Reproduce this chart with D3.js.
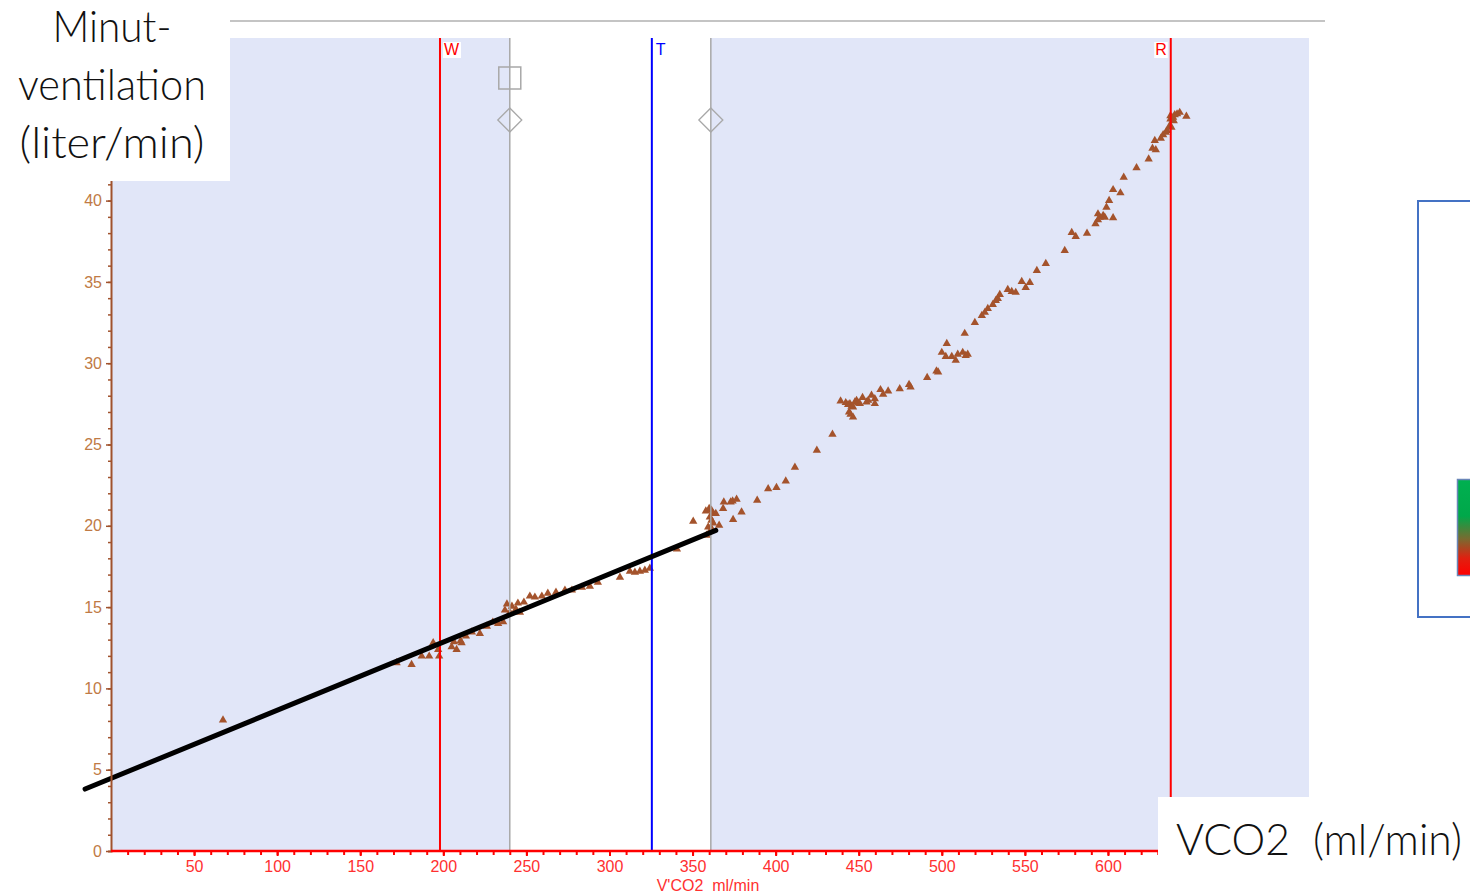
<!DOCTYPE html>
<html><head><meta charset="utf-8">
<script src="https://cdn.jsdelivr.net/npm/d3@7"></script>
<style>
html,body{margin:0;padding:0;background:#fff;}
svg{display:block;}
</style></head>
<body>
<svg id="chart" width="1470" height="895"></svg>
<script>
// ---- Data (V'CO2 ml/min, VE liter/min) ----
const vco2 = [67.4,171.9,180.9,187.0,191.5,193.9,197.5,196.9,205.0,208.0,206.4,210.4,211.0,213.6,217.2,222.0,226.2,229.8,233.0,236.0,
237.1,238.3,240.1,241.3,243.7,244.9,246.1,248.5,252.1,255.1,259.3,262.9,267.8,273.2,277.4,283.4,288.2,293.0,306.3,312.3,
315.3,318.3,321.3,324.3,340.6,350.4,358.0,360.0,361.4,362.4,364.0,360.4,361.4,362.4,359.4,361.4,358.4,366.0,368.4,368.8,
372.9,374.1,376.5,374.4,379.5,388.9,395.5,400.5,406.1,411.6,424.8,434.2,439.1,442.2,443.6,444.7,445.7,446.6,447.7,448.7,
449.6,450.7,444.2,445.1,446.6,452.3,454.7,455.7,457.7,459.7,459.7,463.1,464.7,467.7,474.7,480.3,481.2,491.2,496.8,497.8,
500.0,503.0,502.4,506.0,508.4,509.6,512.6,514.4,515.6,513.8,519.9,524.1,525.9,527.7,530.7,532.5,533.7,534.9,539.7,542.1,
544.5,548.1,550.5,553.0,557.2,562.6,574.0,578.2,580.6,587.4,592.5,594.0,595.1,597.1,598.1,594.0,603.1,599.1,600.7,603.1,
607.5,609.5,617.2,624.5,626.8,628.8,628.2,631.8,633.2,634.8,635.6,637.2,638.2,637.6,639.2,640.2,641.6,643.2,647.2,637.6,639.6];
const ve = [8.05,11.57,11.47,11.98,11.98,12.80,11.98,12.39,12.55,12.39,12.86,12.92,12.80,13.21,13.46,13.37,13.82,14.07,13.99,14.09,
14.81,15.18,14.68,15.05,14.87,15.24,14.68,15.30,15.67,15.61,15.67,15.85,15.91,16.04,16.04,16.22,16.28,16.53,16.83,17.20,
17.14,17.20,17.26,17.39,18.56,20.28,20.91,21.06,20.95,20.75,20.75,20.54,20.34,20.17,19.92,19.83,19.41,20.03,21.06,21.46,
21.46,21.52,21.63,20.38,20.85,21.57,22.28,22.35,22.75,23.59,24.64,25.62,27.67,27.57,27.45,27.51,27.34,27.30,27.61,27.71,
27.55,27.51,26.99,26.85,26.68,27.88,27.61,27.71,28.02,27.81,27.51,28.37,28.08,28.28,28.43,28.69,28.53,29.11,29.51,29.45,
30.66,31.21,30.41,30.41,30.17,30.54,30.66,30.47,30.54,31.83,32.50,32.93,33.12,33.36,33.61,33.85,33.98,34.22,34.53,34.41,
34.35,35.02,34.65,34.96,35.70,36.13,36.93,38.03,37.79,37.99,38.57,38.81,38.97,39.08,38.97,39.18,38.94,39.59,40.00,40.67,
40.47,41.43,42.01,42.56,43.21,43.12,43.69,43.83,44.04,44.20,44.30,44.61,44.50,45.02,45.12,45.28,45.33,45.42,45.18,45.22,44.91];
// regression line endpoints
const fitX = [-15.6, 364];
const fitY = [3.81, 19.72];
// threshold markers
const markerNames = ["W","T","R"];
const markerX = [198, 325.5, 637.8];
const bandX = [240, 361];          // white (unshaded) band edges, gray lines
const xTickLabels = [50,100,150,200,250,300,350,400,450,500,550,600];
const yTickLabels = [0,5,10,15,20,25,30,35,40];
const yLabelLines = ["Minut-","ventilation","(liter/min)"];
const xBigLabel = "VCO2  (ml/min)";
const xAxisTitle = "V'CO2  ml/min";

const svg = d3.select("#chart");
const x = d3.scaleLinear().domain([0,721]).range([111,1309]);
const y = d3.scaleLinear().domain([0,50]).range([851,38]);
const axFont = "Liberation Sans, Arial, sans-serif";

// top gray rule
svg.append("line").attr("x1",230).attr("x2",1325).attr("y1",21).attr("y2",21)
  .attr("stroke","#c4c4c4").attr("stroke-width",2);

// plot background
svg.append("rect").attr("x",x(0)).attr("y",y(50)).attr("width",x(721)-x(0)).attr("height",y(0)-y(50))
  .attr("fill","#e1e6f8");
svg.append("rect").attr("x",x(bandX[0])).attr("y",y(50)).attr("width",x(bandX[1])-x(bandX[0])).attr("height",y(0)-y(50))
  .attr("fill","#ffffff");

// points
const pts = vco2.map((d,i)=>({x:d,y:ve[i]}));
svg.append("g").selectAll("path").data(pts).join("path")
  .attr("d", d3.symbol().type(d3.symbolTriangle).size(30))
  .attr("transform", d=>`translate(${x(d.x)},${y(d.y)})`)
  .attr("fill","#a4532c");

// gray band lines
svg.append("g").selectAll("line").data(bandX).join("line")
  .attr("x1",d=>x(d)).attr("x2",d=>x(d)).attr("y1",y(50)).attr("y2",y(0))
  .attr("stroke","#a8a8a8").attr("stroke-width",1.5);

// markers: square and diamonds
svg.append("rect").attr("x",x(bandX[0])-11).attr("y",67).attr("width",22).attr("height",22)
  .attr("fill","none").attr("stroke","#a8a8a8").attr("stroke-width",1.5);
bandX.forEach(v=>{
  const cx=x(v), cy=120;
  svg.append("path").attr("d",`M${cx},${cy-12}L${cx+12},${cy}L${cx},${cy+12}L${cx-12},${cy}Z`)
    .attr("fill","none").attr("stroke","#a8a8a8").attr("stroke-width",1.3);
});

// threshold lines
const mColors = ["#ff0000","#0000ff","#ff0000"];
markerX.forEach((v,i)=>{
  svg.append("line").attr("x1",x(v)).attr("x2",x(v)).attr("y1",y(50)).attr("y2",y(0))
    .attr("stroke",mColors[i]).attr("stroke-width",2);
});
// labels
[[0,4,"start"],[1,4,"start"],[2,-4,"end"]].forEach(([i,dx,anchor])=>{
  const t = svg.append("text").attr("x",x(markerX[i])+dx).attr("y",55)
    .attr("text-anchor",anchor).attr("font-family",axFont)
    .attr("font-size",16).attr("fill",mColors[i]).text(markerNames[i]);
  if(i!==1){
    const bb=t.node().getBBox();
    svg.append("rect").attr("x",bb.x-1).attr("y",bb.y+1).attr("width",bb.width+2).attr("height",bb.height-1)
      .attr("fill","#fff");
    t.raise();
  }
});

// regression line
svg.append("line").attr("x1",x(fitX[0])).attr("y1",y(fitY[0])).attr("x2",x(fitX[1])).attr("y2",y(fitY[1]))
  .attr("stroke","#000").attr("stroke-width",5).attr("stroke-linecap","round");

// x axis
const xMinor = d3.range(10,721,10);
const gx = svg.append("g").attr("transform",`translate(0,${y(0)})`);
gx.call(d3.axisBottom(x).tickValues(xMinor).tickSize(4).tickFormat(""));
gx.select(".domain").remove();
gx.selectAll(".tick line").attr("stroke","#ff0000").attr("stroke-width",2);
const gx2 = svg.append("g").attr("transform",`translate(0,${y(0)})`);
gx2.call(d3.axisBottom(x).tickValues(xTickLabels).tickSize(5).tickPadding(5));
gx2.select(".domain").remove();
gx2.selectAll(".tick line").attr("stroke","#ff0000").attr("stroke-width",2);
gx2.selectAll(".tick text").attr("fill","#ff3030").attr("font-size",16).attr("font-family",axFont);
svg.append("text").attr("x",708).attr("y",891).attr("text-anchor","middle")
  .attr("font-family",axFont).attr("font-size",16).attr("fill","#ff3030")
  .attr("xml:space","preserve").style("white-space","pre").text(xAxisTitle);

// y axis
const yMinor = d3.range(1,50,1);
const gy = svg.append("g").attr("transform",`translate(${x(0)},0)`);
gy.call(d3.axisLeft(y).tickValues(yMinor).tickSize(3).tickFormat(""));
gy.select(".domain").attr("stroke","#a0522d").attr("stroke-width",2);
gy.selectAll(".tick line").attr("stroke","#a0522d").attr("stroke-width",1.5);
const gy2 = svg.append("g").attr("transform",`translate(${x(0)},0)`);
gy2.call(d3.axisLeft(y).tickValues(yTickLabels).tickSize(5).tickPadding(4));
gy2.select(".domain").remove();
gy2.selectAll(".tick line").attr("stroke","#a0522d").attr("stroke-width",1.5);
gy2.selectAll(".tick text").attr("fill","#c07a45").attr("font-size",16).attr("font-family",axFont);
// red x-axis line
svg.append("line").attr("x1",x(0)).attr("x2",x(721)).attr("y1",y(0)).attr("y2",y(0)).attr("stroke","#ff0000").attr("stroke-width",2.5);

// top-left label box
svg.append("rect").attr("x",0).attr("y",0).attr("width",230).attr("height",181).attr("fill","#fff");
const lblFont = "Lato, 'Open Sans', sans-serif";
const lblLens = [119,188,185];
yLabelLines.forEach((s,i)=>{
  svg.append("text").attr("x",112).attr("y",42+i*58).attr("text-anchor","middle")
    .attr("font-family",lblFont).attr("font-weight",300).attr("font-size",44).attr("fill","#111")
    .attr("textLength",lblLens[i]).attr("lengthAdjust","spacingAndGlyphs").text(s);
});

// bottom-right label box
svg.append("rect").attr("x",1158).attr("y",797).attr("width",312).attr("height",98).attr("fill","#fff");
svg.append("text").attr("x",1176).attr("y",855).attr("font-family",lblFont).attr("font-weight",300)
  .attr("font-size",44).attr("fill","#111").attr("textLength",286).attr("lengthAdjust","spacingAndGlyphs")
  .attr("xml:space","preserve").style("white-space","pre").text(xBigLabel);

// right legend box with gradient swatch
const defs = svg.append("defs");
const grad = defs.append("linearGradient").attr("id","gr").attr("x1",0).attr("x2",0).attr("y1",0).attr("y2",1);
[[0,"#00b050"],[0.38,"#00a84a"],[0.62,"#7a6a30"],[0.82,"#e02010"],[1,"#ff0000"]].forEach(([o,c])=>
  grad.append("stop").attr("offset",o).attr("stop-color",c));
svg.append("rect").attr("x",1418).attr("y",201).attr("width",80).attr("height",416)
  .attr("fill","#fff").attr("stroke","#4472c4").attr("stroke-width",2);
svg.append("rect").attr("x",1457.5).attr("y",479.5).attr("width",30).attr("height",96)
  .attr("fill","url(#gr)").attr("stroke","#6a86b8").attr("stroke-width",1.5);
</script>
</body></html>
